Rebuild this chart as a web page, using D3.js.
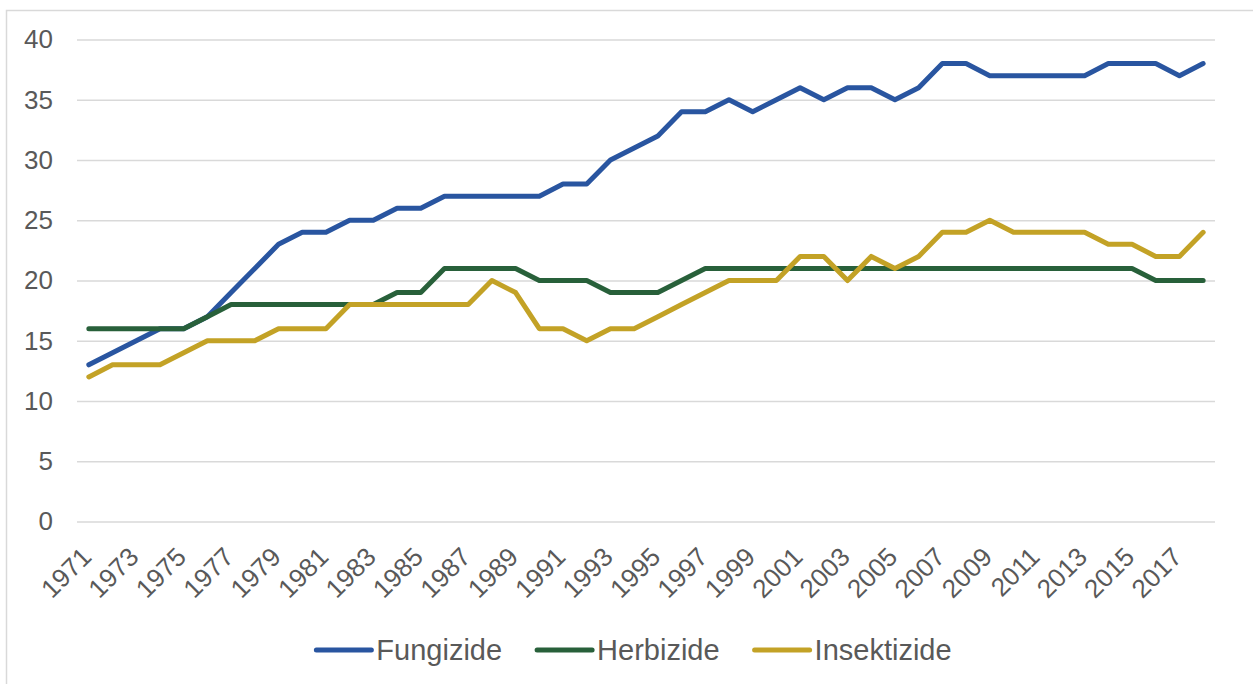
<!DOCTYPE html>
<head>
    <meta charset="utf-8">
    <script src="https://d3js.org/d3.v7.min.js"></script>
    <style>
        body {
            margin: 0;
            background: white;
        }
        text {
            font-family: "Liberation Sans", Arial, sans-serif;
            fill: #595959;
        }
    </style>
</head>

<body>
<svg id="graph" width=1253 height=684></svg>
<script>

    const years = d3.range(1971, 2019);
    const yearLabels = years.filter(function (d) { return (d - 1971) % 2 === 0 });
    const yTicks = [0, 5, 10, 15, 20, 25, 30, 35, 40];

    const fungizide = [13, 14, 15, 16, 16, 17, 19, 21, 23, 24, 24, 25, 25, 26, 26, 27,
        27, 27, 27, 27, 28, 28, 30, 31, 32, 34, 34, 35, 34, 35, 36, 35,
        36, 36, 35, 36, 38, 38, 37, 37, 37, 37, 37, 38, 38, 38, 37, 38];
    const herbizide = [16, 16, 16, 16, 16, 17, 18, 18, 18, 18, 18, 18, 18, 19, 19, 21,
        21, 21, 21, 20, 20, 20, 19, 19, 19, 20, 21, 21, 21, 21, 21, 21,
        21, 21, 21, 21, 21, 21, 21, 21, 21, 21, 21, 21, 21, 20, 20, 20];
    const insektizide = [12, 13, 13, 13, 14, 15, 15, 15, 16, 16, 16, 18, 18, 18, 18, 18,
        18, 20, 19, 16, 16, 15, 16, 16, 17, 18, 19, 20, 20, 20, 22, 22,
        20, 22, 21, 22, 24, 24, 25, 24, 24, 24, 24, 23, 23, 22, 22, 24];

    const seriesNames = ["Fungizide", "Herbizide", "Insektizide"];
    const seriesValues = [fungizide, herbizide, insektizide];
    const colors = ["#2955a0", "#28603a", "#c3a226"];

    const plot = {left: 77, right: 1215, top: 39.5, bottom: 521.5};

    let svg = d3.select("#graph");

    // light frame round the chart area
    svg.append("rect")
        .attr("x", 6.5)
        .attr("y", 10.5)
        .attr("width", 1400)
        .attr("height", 800)
        .attr("fill", "none")
        .attr("stroke", "#d9d9d9")
        .attr("stroke-width", 1.5);

    let x = d3.scaleBand()
        .domain(years)
        .range([plot.left, plot.right]);

    let y = d3.scaleLinear()
        .domain([0, 40])
        .range([plot.bottom, plot.top]);

    let yAxis = d3.axisLeft(y)
        .tickValues(yTicks)
        .tickSize(-(plot.right - plot.left))
        .tickPadding(24);

    let gy = svg.append("g")
        .attr("class", "y axis")
        .attr("transform", "translate(" + plot.left + ",0)")
        .call(yAxis);
    gy.select(".domain").remove();
    gy.selectAll("line")
        .attr("stroke", "#d9d9d9")
        .attr("stroke-width", 1.5);
    gy.selectAll("text")
        .style("font-size", "26px")
        .style("fill", "#595959");

    let xAxis = d3.axisBottom(x)
        .tickValues(yearLabels)
        .tickSize(0);

    let gx = svg.append("g")
        .attr("class", "x axis")
        .attr("transform", "translate(0," + plot.bottom + ")")
        .call(xAxis);
    gx.select(".domain").remove();
    gx.selectAll("text")
        .attr("x", 0)
        .attr("y", 0)
        .attr("dy", 0)
        .attr("text-anchor", "end")
        .attr("transform", "translate(4,37) rotate(-45)")
        .style("font-size", "26px")
        .style("fill", "#595959");

    let line = d3.line()
        .x(function (d, i) {
            return x(years[i]) + x.bandwidth() / 2
        })
        .y(function (d) {
            return y(d)
        });

    svg.selectAll(".series")
        .data(seriesValues)
        .enter()
        .append("path")
        .attr("class", "series")
        .attr("d", line)
        .attr("fill", "none")
        .attr("stroke", function (d, i) {
            return colors[i]
        })
        .attr("stroke-width", 5)
        .attr("stroke-linejoin", "round")
        .attr("stroke-linecap", "round");

    // legend, laid out from the measured label widths
    let legend = svg.append("g").attr("class", "legend");
    let items = legend.selectAll("g")
        .data(seriesNames)
        .enter()
        .append("g");

    items.append("line")
        .attr("x1", 0)
        .attr("x2", 55)
        .attr("y1", 0)
        .attr("y2", 0)
        .attr("stroke", function (d, i) {
            return colors[i]
        })
        .attr("stroke-width", 5)
        .attr("stroke-linecap", "round");

    items.append("text")
        .attr("x", 60)
        .attr("y", 10)
        .style("font-size", "29px")
        .style("fill", "#595959")
        .text(function (d) {
            return d
        });

    let offsets = [];
    let pos = 0;
    items.each(function () {
        offsets.push(pos);
        pos += 60 + d3.select(this).select("text").node().getComputedTextLength() + 35;
    });
    let total = pos - 35;
    let start = 634 - total / 2;
    items.attr("transform", function (d, i) {
        return "translate(" + (start + offsets[i]) + ",650)"
    });

</script>

</body>
